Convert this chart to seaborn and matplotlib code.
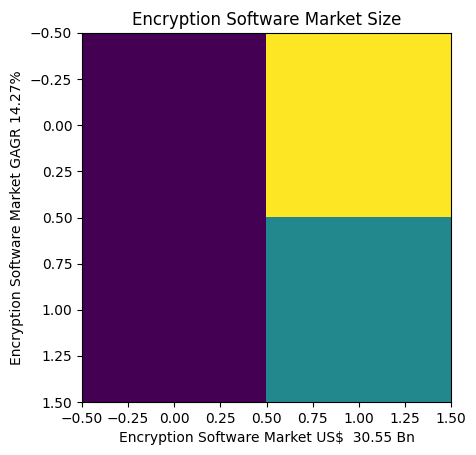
import numpy as np
import matplotlib
matplotlib.use("Agg")
import matplotlib.pyplot as plt
import seaborn as sns

# market size grid (US$ Bn and CAGR %)
rows = ["row0", "row1"]
cols = ["col0", "col1"]
values = [[0.0, 30.55],
          [0.0, 14.27]]

title = "Encryption Software Market Size"
xlabel = "Encryption Software Market US$  30.55 Bn"
ylabel = "Encryption Software Market GAGR 14.27%"

fig = plt.figure(figsize=(4.76, 4.55), dpi=100)
ax = fig.add_axes([82 / 476, 1 - 402 / 455, 369 / 476, 369 / 455])

cmap = sns.color_palette("viridis", as_cmap=True)
ax.imshow(np.array(values), cmap=cmap, aspect="auto")

ax.set_title(title)
ax.set_xlabel(xlabel)
ax.set_ylabel(ylabel)

fig.savefig("out.png", dpi=100)
